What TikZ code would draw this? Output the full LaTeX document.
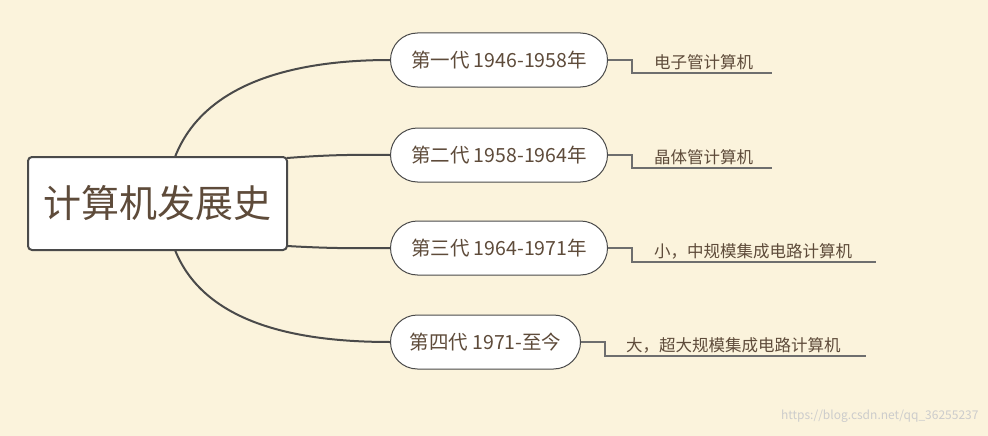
\documentclass[tikz,border=0pt]{standalone}
\usepackage{fontspec}
\setmainfont{Noto Sans CJK SC}
\definecolor{bg}{HTML}{FBF3DC}
\definecolor{txt}{HTML}{5E4B3A}
\definecolor{ln}{HTML}{4A4A4A}
\begin{document}
\begin{tikzpicture}[x=1pt,y=-1pt,
  pill/.style={draw=ln,line width=1pt,fill=white,rounded corners=27pt,minimum height=54pt,text=txt,font=\fontsize{19.5}{21}\selectfont,anchor=west,inner xsep=6pt},
  leaf/.style={text=txt,font=\fontsize{16.5}{18}\selectfont,anchor=south west,inner sep=2pt},
  br/.style={ln,line width=2pt},
  lf/.style={ln!80,line width=1.1pt}]
\fill[bg] (0,0) rectangle (988,436);
\useasboundingbox (0,0) rectangle (988,436);
\node[draw=ln,line width=2pt,fill=white,rounded corners=4pt,minimum width=259pt,minimum height=93pt,text=txt,font=\fontsize{38}{42}\selectfont] (root) at (157.5,203.5) {计算机发展史};
\node[pill,minimum width=217pt] (c1) at (390,60) {第一代 1946-1958年};
\node[pill,minimum width=217pt] (c2) at (390,155) {第二代 1958-1964年};
\node[pill,minimum width=217pt] (c3) at (390,248) {第三代 1964-1971年};
\node[pill,minimum width=190pt] (c4) at (390,342) {第四代 1971-至今};
\coordinate (r1) at (175,157);
\coordinate (r2) at (287,158);
\coordinate (r3) at (287,246);
\coordinate (r4) at (175,250);
\draw[br] (r1) .. controls (205,80) and (300,60) .. (c1.west);
\draw[br] (r2) .. controls (340,154) and (360,155) .. (c2.west);
\draw[br] (r3) .. controls (340,249) and (360,248) .. (c3.west);
\draw[br] (r4) .. controls (205,325) and (300,342) .. (c4.west);
\coordinate (u1) at (772,73);
\coordinate (u2) at (772,168);
\coordinate (u3) at (876,262);
\coordinate (u4) at (866,356);
\node[leaf] (l1) at (652,72) {电子管计算机};
\node[leaf] (l2) at (652,167) {晶体管计算机};
\node[leaf] (l3) at (652,261) {小，中规模集成电路计算机};
\node[leaf] (l4) at (624,355) {大，超大规模集成电路计算机};
\draw[lf] (c1.east) -- (632,60) |- (u1);
\draw[lf] (c2.east) -- (632,155) |- (u2);
\draw[lf] (c3.east) -- (632,248) |- (u3);
\draw[lf] (c4.east) -- (605,342) |- (u4);
\node[text=gray!40,font=\fontsize{12}{14}\selectfont,anchor=east] (wm) at (982,416) {https://blog.csdn.net/qq\_36255237};
\end{tikzpicture}
\end{document}
